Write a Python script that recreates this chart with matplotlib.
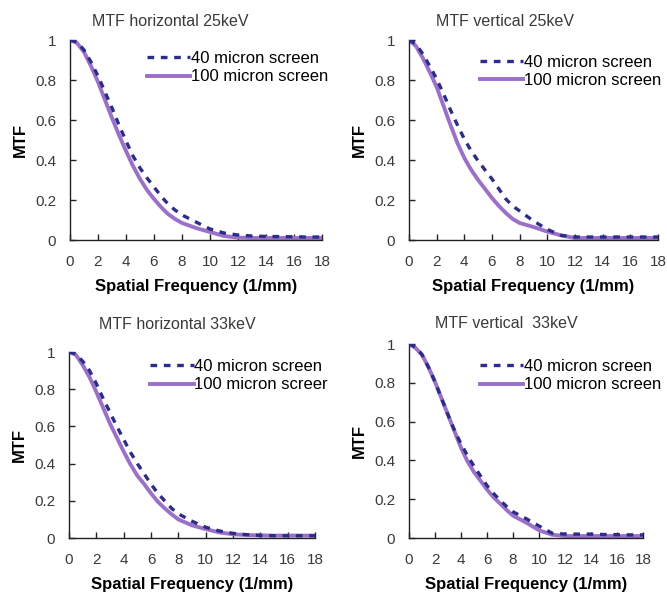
import matplotlib

matplotlib.use("Agg")
import matplotlib.pyplot as plt

W, H = 667, 597

FREQ = [0, 0.5, 1, 1.5, 2, 2.5, 3, 3.5, 4, 4.5, 5, 5.5, 6, 6.5, 7, 7.5, 8,
        9, 10, 11, 12, 13, 14, 15, 16, 17, 18]

H25_40 = [1.0, 0.99, 0.95, 0.89, 0.82, 0.74, 0.66, 0.575, 0.495, 0.42, 0.36, 0.31,
          0.265, 0.22, 0.18, 0.15, 0.125, 0.09, 0.055, 0.035, 0.025, 0.02, 0.018,
          0.017, 0.016, 0.015, 0.015]
H25_100 = [1.0, 0.985, 0.94, 0.87, 0.79, 0.70, 0.61, 0.525, 0.445, 0.37, 0.305, 0.25,
           0.205, 0.165, 0.13, 0.105, 0.085, 0.06, 0.04, 0.02, 0.012, 0.01, 0.01,
           0.01, 0.01, 0.01, 0.01]

V25_40 = [1.0, 0.98, 0.93, 0.87, 0.805, 0.73, 0.65, 0.575, 0.505, 0.445, 0.395, 0.35,
          0.305, 0.255, 0.205, 0.17, 0.145, 0.095, 0.053, 0.023, 0.015, 0.015, 0.015,
          0.015, 0.015, 0.015, 0.015]
V25_100 = [1.0, 0.97, 0.91, 0.84, 0.765, 0.67, 0.575, 0.485, 0.41, 0.35, 0.30, 0.255,
           0.21, 0.17, 0.135, 0.105, 0.085, 0.065, 0.042, 0.023, 0.01, 0.01, 0.01,
           0.01, 0.01, 0.01, 0.01]

H33_40 = [1.0, 0.99, 0.95, 0.90, 0.83, 0.75, 0.675, 0.60, 0.53, 0.46, 0.40, 0.345,
          0.29, 0.24, 0.20, 0.16, 0.13, 0.09, 0.058, 0.038, 0.025, 0.018, 0.014,
          0.012, 0.012, 0.012, 0.012]
H33_100 = [1.0, 0.985, 0.93, 0.865, 0.785, 0.70, 0.615, 0.54, 0.465, 0.395, 0.335, 0.29,
           0.24, 0.195, 0.16, 0.128, 0.10, 0.068, 0.048, 0.03, 0.02, 0.016, 0.014,
           0.013, 0.013, 0.013, 0.013]

V33_40 = [1.0, 0.985, 0.945, 0.88, 0.805, 0.72, 0.635, 0.555, 0.485, 0.425, 0.37, 0.32,
          0.27, 0.23, 0.195, 0.163, 0.135, 0.10, 0.062, 0.025, 0.02, 0.02, 0.02,
          0.018, 0.017, 0.016, 0.016]
V33_100 = [1.0, 0.98, 0.945, 0.88, 0.805, 0.72, 0.635, 0.55, 0.465, 0.395, 0.34, 0.295,
           0.25, 0.21, 0.178, 0.145, 0.115, 0.08, 0.04, 0.017, 0.01, 0.01, 0.01,
           0.01, 0.01, 0.01, 0.01]

TITLES = ["MTF horizontal 25keV", "MTF vertical 25keV",
          "MTF horizontal 33keV", "MTF vertical  33keV"]
LABELS_40 = ["40 micron screen"] * 4
LABELS_100 = ["100 micron screen", "100 micron screen",
              "100 micron screer", "100 micron screen"]
SERIES_40 = [H25_40, V25_40, H33_40, V33_40]
SERIES_100 = [H25_100, V25_100, H33_100, V33_100]

X_TICKS = [0, 2, 4, 6, 8, 10, 12, 14, 16, 18]
Y_TICKS = [0, 0.2, 0.4, 0.6, 0.8, 1]
Y_TICK_LABELS = ["0", "0.2", "0.4", "0.6", "0.8", "1"]

# axes boxes in pixels: left, right, top, bottom
BOXES = [(70, 322, 40, 240), (409, 658, 40, 240),
         (69, 315, 352, 538), (409, 643, 344, 538)]
TITLE_POS = [(170, 21), (505, 21), (177, 325), (506, 324)]
LEGEND_ANCHOR = [(0.305, 0.945), (0.285, 0.925), (0.33, 0.962), (0.303, 0.922)]

NAVY = "#2b2d86"
PURPLE = "#9b70c8"
GREY = "#3a3a3a"

plt.rcParams["font.family"] = ["Liberation Sans", "DejaVu Sans"]

fig = plt.figure(figsize=(W / 100, H / 100), dpi=100)

for i in range(4):
    l, r, t, b = BOXES[i]
    ax = fig.add_axes([l / W, 1 - b / H, (r - l) / W, (b - t) / H])

    ax.plot(FREQ, SERIES_100[i], color=PURPLE, lw=2.8, label=LABELS_100[i], zorder=2)
    ax.plot(FREQ, SERIES_40[i], color=NAVY, lw=2.4, ls=(0, (2, 2)),
            label=LABELS_40[i], zorder=3)

    ax.set_xlim(0, 18)
    ax.set_ylim(0, 1)
    ax.set_xticks(X_TICKS)
    ax.set_yticks(Y_TICKS)
    ax.set_yticklabels(Y_TICK_LABELS)
    ax.tick_params(direction="in", length=4, width=1, labelsize=11,
                   labelcolor=GREY, color="#222222")
    ax.tick_params(axis="x", pad=11)
    ax.tick_params(axis="y", pad=10)
    for side in ["top", "right"]:
        ax.spines[side].set_visible(False)
    for side in ["left", "bottom"]:
        ax.spines[side].set_linewidth(1.0)
        ax.spines[side].set_color("#222222")

    ax.set_xlabel("Spatial Frequency (1/mm)", fontsize=12, fontweight="bold", labelpad=7)
    ax.set_ylabel("MTF", fontsize=12, fontweight="bold", labelpad=5)

    handles, labels = ax.get_legend_handles_labels()
    ax.legend(handles[::-1], labels[::-1], loc="upper left",
              bbox_to_anchor=LEGEND_ANCHOR[i], frameon=False, fontsize=12,
              borderpad=0, borderaxespad=0, handlelength=2.6, handletextpad=0.05,
              labelspacing=0.2)

    cx, cy = TITLE_POS[i]
    fig.text(cx / W, 1 - cy / H, TITLES[i], ha="center", va="center",
             fontsize=11.5, color=GREY)

fig.savefig("out.png", dpi=100)
